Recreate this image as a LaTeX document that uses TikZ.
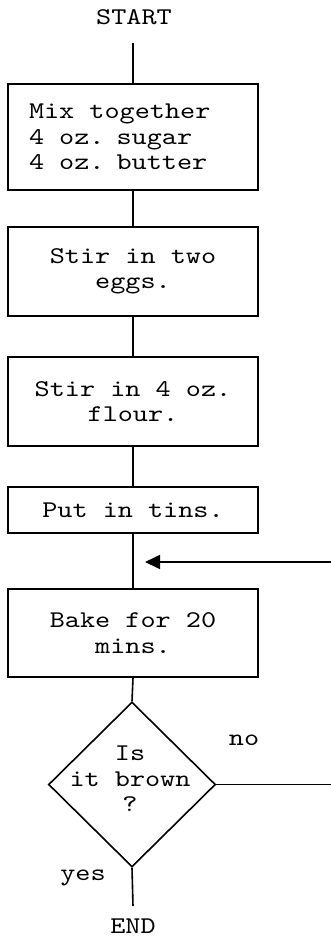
\documentclass[tikz,border=0pt]{standalone}
\usepackage{fontspec}
\newfontfamily\courfont{lmmono10-regular.otf}[FakeStretch=1.2]
\usetikzlibrary{shapes.geometric,arrows.meta}
\begin{document}
\begin{tikzpicture}[x=1pt,y=-1pt,
  every node/.style={font=\courfont\fontsize{24}{25.5}\selectfont},
  stepbox/.style={draw,line width=1.6pt,minimum width=250pt,inner sep=0pt,align=center},
  decision/.style={draw,diamond,line width=1.6pt,minimum width=167pt,minimum height=165pt,inner sep=0pt},
  conn/.style={line width=1.6pt},
  lbl/.style={inner sep=0pt}]
\useasboundingbox (0,0) rectangle (331,938);
\node[lbl] (start) at (134,17) {START};
\coordinate (s0) at (133,43);
\node[stepbox,minimum height=106pt,text width=208pt,inner xsep=21pt,align=left] (b1) at (133,137) {\spaceskip=15.12pt\relax Mix together\\4 oz. sugar\\4 oz. butter};
\node[stepbox,minimum height=89pt] (b2) at (133,271.5) {Stir in two\\eggs.};
\node[stepbox,minimum height=89pt] (b3) at (133,401.5) {Stir in 4 oz.\\flour.};
\node[stepbox,minimum height=46pt] (b4) at (133,510) {Put in tins.};
\node[stepbox,minimum height=88pt] (b5) at (133,633) {Bake for 20\\mins.};
\node[decision] (d) at (132,784.5) {};
\node[lbl,align=center] (dq) at (130,779) {Is\\it brown\\?};
\node[lbl] (no) at (244,740) {no};
\node[lbl] (yes) at (83,878) {yes};
\node[lbl] (end) at (133,926) {END};
\coordinate (e0) at (133,906);
\coordinate (nr) at (331,784.5);
\coordinate (ar) at (331,562);
\coordinate (at) at (145,562);
\draw[conn] (s0) -- (b1.north);
\draw[conn] (b1) -- (b2);
\draw[conn] (b2) -- (b3);
\draw[conn] (b3) -- (b4);
\draw[conn] (b4) -- (b5);
\draw[conn] (b5.south) -- (d.north);
\draw[conn] (d.east) -- (nr);
\draw[conn] (d.south) -- (e0);
\draw[conn,-{Triangle[length=15pt,width=14pt]}] (ar) -- (at);
\end{tikzpicture}
\end{document}
